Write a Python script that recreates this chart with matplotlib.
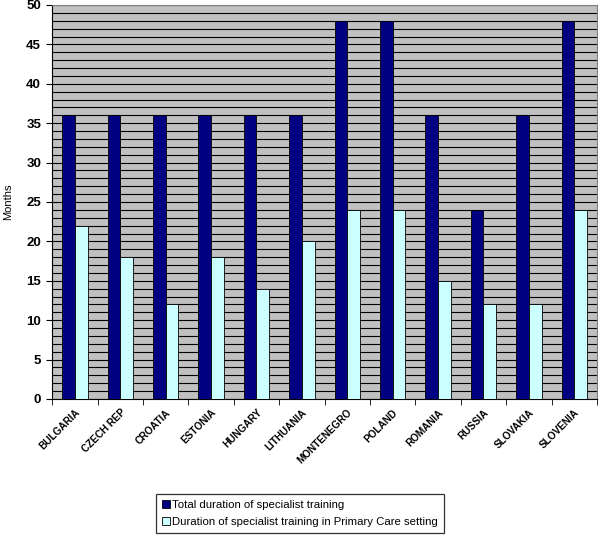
import matplotlib
matplotlib.use("Agg")
import matplotlib.pyplot as plt
import numpy as np
from matplotlib.ticker import MultipleLocator, FixedLocator

plt.rcParams['font.family'] = ['Liberation Sans', 'DejaVu Sans']

countries = ["BULGARIA", "CZECH REP", "CROATIA", "ESTONIA", "HUNGARY", "LITHUANIA",
             "MONTENEGRO", "POLAND", "ROMANIA", "RUSSIA", "SLOVAKIA", "SLOVENIA"]
total_duration = [36, 36, 36, 36, 36, 36, 48, 48, 36, 24, 36, 48]
primary_care = [22, 18, 12, 18, 14, 20, 24, 24, 15, 12, 12, 24]
series_names = ["Total duration of specialist training",
                "Duration of specialist training in Primary Care setting"]

fig = plt.figure(figsize=(6, 5.36), dpi=100)
ax = fig.add_axes([0.087, 0.2556, 0.908, 0.7351])
ax.set_facecolor('#C0C0C0')

x = np.arange(len(countries))
w = 0.28
ax.bar(x - w/2, total_duration, w, color='#000080', edgecolor='black', linewidth=0.6,
       label=series_names[0], zorder=3)
ax.bar(x + w/2, primary_care, w, color='#CCFFFF', edgecolor='black', linewidth=0.6,
       label=series_names[1], zorder=3)

ax.set_xlim(-0.5, len(countries) - 0.5)
ax.set_ylim(0, 50)
ax.yaxis.set_major_locator(MultipleLocator(5))
ax.yaxis.set_minor_locator(MultipleLocator(1))
ax.grid(True, which='both', axis='y', color='black', linewidth=0.8, zorder=1)
ax.set_axisbelow(True)

ax.set_xticks(x)
ax.set_xticklabels(countries, rotation=45, ha='right', rotation_mode='anchor',
                   fontsize=7.2, fontweight='semibold')
ax.xaxis.set_minor_locator(FixedLocator(np.arange(-0.5, len(countries) + 0.5, 1)))
ax.tick_params(axis='x', which='major', length=0, pad=6)
ax.tick_params(axis='x', which='minor', length=4, direction='out', color='black')
ax.tick_params(axis='y', which='major', length=4, direction='out', labelsize=9.5, pad=4)
ax.tick_params(axis='y', which='minor', length=0)
for lbl in ax.get_yticklabels():
    lbl.set_fontweight('bold')

for s in ['top', 'right']:
    ax.spines[s].set_color('#808080')
for s in ['left', 'bottom']:
    ax.spines[s].set_color('black')

fig.text(0.014, 0.623, "Months", rotation=90, va='center', ha='center', fontsize=8)

leg = fig.legend(loc='center', bbox_to_anchor=(0.5, 0.042), fontsize=8.2,
                 frameon=True, fancybox=False, edgecolor='black',
                 handlelength=0.7, handleheight=0.7, handletextpad=0.2,
                 labelspacing=0.65, borderpad=0.5)
leg.get_frame().set_linewidth(0.9)

fig.savefig("out.png", dpi=100)
